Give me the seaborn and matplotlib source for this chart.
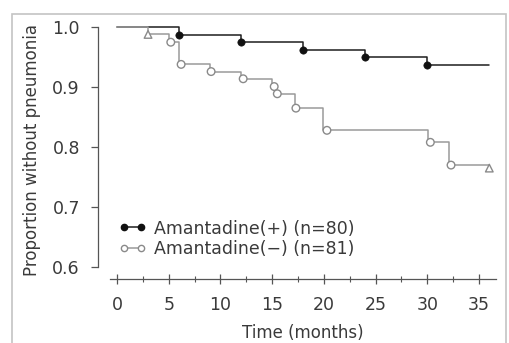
import numpy as np
import pandas as pd
import matplotlib
matplotlib.use("Agg")
import matplotlib.pyplot as plt
from matplotlib.lines import Line2D
from matplotlib.patches import Rectangle
import seaborn as sns

# Kaplan-Meier style curves
t_plus = [0, 6, 12, 18, 24, 30, 36]
s_plus = [1.0, 0.9875, 0.975, 0.9625, 0.95, 0.9375, 0.9375]
ev_plus_t = [6, 12, 18, 24, 30]
ev_plus_s = [0.9875, 0.975, 0.9625, 0.95, 0.9375]

t_minus = [0, 3, 5, 6, 9, 12, 15, 15.4, 17.2, 19.9, 30.1, 32.1, 36]
s_minus = [1.0, 0.988, 0.975, 0.938, 0.926, 0.914, 0.901, 0.889, 0.865, 0.828, 0.808, 0.77, 0.77]
ev_minus_t = [3, 5.2, 6.2, 9.1, 12.2, 15.2, 15.5, 17.3, 20.3, 30.3, 32.3, 36]
ev_minus_s = [0.988, 0.975, 0.938, 0.926, 0.914, 0.901, 0.889, 0.865, 0.828, 0.808, 0.77, 0.765]
ev_minus_m = ["^", "o", "o", "o", "o", "o", "o", "o", "o", "o", "o", "^"]

labels = ["Amantadine(+) (n=80)", "Amantadine(\u2212) (n=81)"]
yticks = [0.6, 0.7, 0.8, 0.9, 1.0]
xticks = [0, 5, 10, 15, 20, 25, 30, 35]

sns.set_style("ticks")
plt.rcParams['font.family'] = ['DejaVu Sans']
txt = "#3a3a3a"

lines = pd.DataFrame({
    "t": t_plus + t_minus,
    "s": s_plus + s_minus,
    "grp": ["plus"] * len(t_plus) + ["minus"] * len(t_minus),
})
ev_plus = pd.DataFrame({"t": ev_plus_t, "s": ev_plus_s})
ev_minus = pd.DataFrame({"t": ev_minus_t, "s": ev_minus_s, "m": ev_minus_m})

fig = plt.figure(figsize=(5.09, 3.43), dpi=100)
ax = fig.add_axes([0.1925, 0.1866, 0.782, 0.755])

cols = {"plus": "#1e1e1e", "minus": "#9a9a9a"}
sns.lineplot(data=lines, x="t", y="s", hue="grp", palette=cols,
             drawstyle="steps-post", lw=1.1, legend=False, ax=ax,
             estimator=None, sort=False)
sns.scatterplot(data=ev_minus, x="t", y="s", style="m",
                markers={"o": "o", "^": "^"}, s=30, facecolor="white",
                edgecolor="#8a8a8a", linewidth=1.0, legend=False, ax=ax, zorder=3)
sns.scatterplot(data=ev_plus, x="t", y="s", color="#111111", s=28,
                edgecolor="#111111", legend=False, ax=ax, zorder=4)

ax.set_xlim(-1.84, 36.65)
ax.set_ylim(0.58, 1.012)
ax.set_xticks(xticks)
ax.set_xticks(np.arange(2.5, 36, 5), minor=True)
ax.set_yticks(yticks)
ax.set_yticklabels([f"{v:.1f}" for v in yticks])
ax.spines["left"].set_bounds(0.6, 1.0)
ax.spines["bottom"].set_bounds(-0.7, 36.65)
sns.despine(ax=ax)
for sp in ("left", "bottom"):
    ax.spines[sp].set_color("#555555")
    ax.spines[sp].set_linewidth(0.9)

ax.tick_params(axis="x", which="major", direction="inout", length=7,
               width=0.9, color="#555555", labelsize=12.5, labelcolor=txt, pad=9)
ax.tick_params(axis="x", which="minor", direction="inout", length=4,
               width=0.8, color="#555555")
ax.tick_params(axis="y", direction="out", length=5, width=0.9,
               color="#555555", labelsize=12.5, labelcolor=txt, pad=8)

ax.set_xlabel("Time (months)", fontsize=12, color=txt, labelpad=7)
ax.xaxis.set_label_coords(0.515, -0.175)
ax.set_ylabel("Proportion without pneumonia", fontsize=12, color=txt, labelpad=8)

handles = [
    Line2D([], [], color="#1e1e1e", lw=1.1, marker="o", ms=4.5,
           mfc="#111111", mec="#111111"),
    Line2D([], [], color="#9a9a9a", lw=1.1, marker="o", ms=4.5,
           mfc="white", mec="#8a8a8a"),
]
leg = ax.legend(handles, labels, loc="center left", bbox_to_anchor=(0.035, 0.155),
                frameon=False, numpoints=2, handlelength=1.6, handletextpad=0.45,
                labelspacing=0.15, fontsize=12.5, borderaxespad=0)
for t in leg.get_texts():
    t.set_color(txt)

fig.add_artist(Rectangle((12 / 509, -0.02), 494 / 509, (343 - 14) / 343 + 0.02,
                         transform=fig.transFigure, fill=False,
                         ec="#c4c4c4", lw=1.2))

fig.savefig("out.png", dpi=100)
